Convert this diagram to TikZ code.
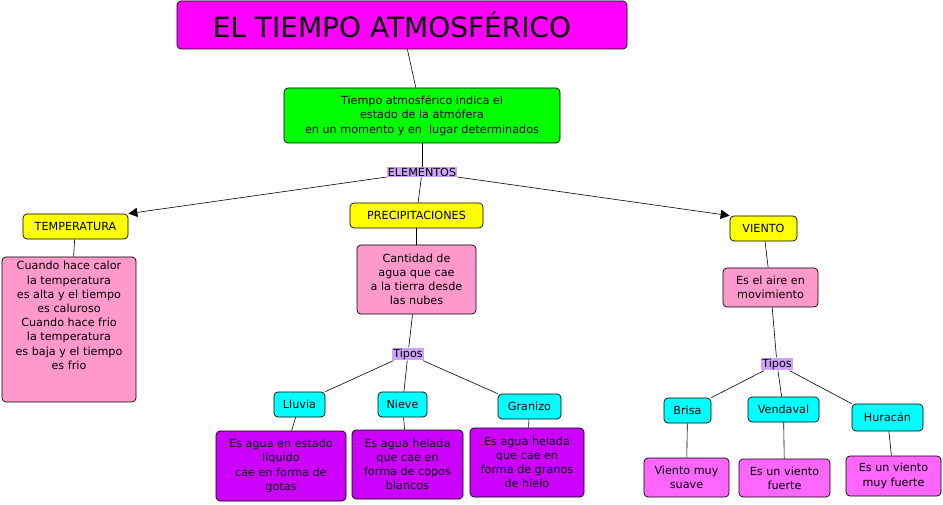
\documentclass[tikz,border=0pt]{standalone}
\usepackage{fontspec}
\setmainfont{DejaVu Sans}
\usetikzlibrary{arrows.meta}
\definecolor{tyellow}{HTML}{FFFF00}
\definecolor{tpink}{HTML}{FF99CC}
\definecolor{tcyan}{HTML}{00FFFF}
\definecolor{tpurple}{HTML}{CC00FF}
\definecolor{tmag}{HTML}{FF66FF}
\definecolor{tlav}{HTML}{CCA3F5}
\definecolor{ttitle}{HTML}{FF00FF}
\definecolor{tgreen}{HTML}{00FF00}
\begin{document}
\begin{tikzpicture}[x=1pt,y=-1pt,
  box/.style={draw=black,rounded corners=4pt,align=center,inner sep=1pt,font=\fontsize{11.2}{14.2}\selectfont,line width=0.7pt},
  lab/.style={fill=tlav,inner sep=1pt,font=\fontsize{11.2}{13}\selectfont},
  ln/.style={draw=black,line width=0.6pt},
  arr/.style={ln,-{Triangle[length=9pt,width=9pt]}}]
\fill[white] (0,0) rectangle (943,505);
\newcommand\bx[7]{\node[box,fill=#6,minimum width=#3-#1,minimum height=#4-#2] (#5) at ({(#1+#3)/2},{(#2+#4)/2}) {#7};}
\bx{177}{1}{627}{49}{title}{ttitle}{\fontsize{28}{30}\selectfont EL TIEMPO ATMOSFÉRICO\hspace{20pt}}
\bx{284}{88}{560}{143}{def}{tgreen}{Tiempo atmosférico indica el\\ estado de la atmófera\\en un momento y en\ \ lugar determinados}
\node[lab] (elem) at (422,172) {ELEMENTOS};
\bx{23}{214}{128}{239}{temp}{tyellow}{TEMPERATURA}
\bx{350}{203}{483}{228}{prec}{tyellow}{PRECIPITACIONES}
\bx{730}{216}{797}{241}{vien}{tyellow}{VIENTO}
\bx{2}{257}{136}{402}{tdesc}{tpink}{Cuando hace calor\\la temperatura\\es alta y el tiempo\\es caluroso\\Cuando hace frio\\la temperatura\\es baja y el tiempo\\es frio\\[14pt]}
\bx{357}{245}{476}{314}{cant}{tpink}{Cantidad de\\agua que cae\\a la tierra desde\\las nubes}
\bx{723}{268}{818}{307}{aire}{tpink}{Es el aire en\\movimiento}
\node[lab] (tip1) at (408,354) {Tipos};
\node[lab] (tip2) at (777,364) {Tipos};
\bx{274}{392}{325}{417}{llu}{tcyan}{Lluvia}
\bx{378}{392}{427}{417}{nie}{tcyan}{Nieve}
\bx{498}{394}{561}{419}{gra}{tcyan}{Granizo}
\bx{216}{431}{346}{501}{dllu}{tpurple}{Es agua en estado\\líquido\\cae en forma de\\gotas}
\bx{352}{430}{463}{499}{dnie}{tpurple}{Es agua helada\\que cae en\\forma de copos\\blancos}
\bx{470}{428}{584}{497}{dgra}{tpurple}{Es agua helada\\que cae en\\forma de granos\\de hielo}
\bx{664}{398}{711}{423}{bri}{tcyan}{Brisa}
\bx{748}{397}{819}{422}{ven}{tcyan}{Vendaval}
\bx{852}{404}{923}{431}{hur}{tcyan}{Huracán}
\bx{644}{458}{729}{497}{dbri}{tmag}{Viento muy\\suave}
\bx{739}{459}{830}{497}{dven}{tmag}{Es un viento\\fuerte}
\bx{846}{456}{941}{496}{dhur}{tmag}{Es un viento\\muy fuerte}
\draw[ln] (title) -- (def);
\draw[ln] (def) -- (elem);
\draw[arr] (elem) -- (temp.north east);
\draw[arr] (elem) -- (vien.north west);
\draw[ln] (elem) -- (prec);
\draw[ln] (temp) -- (tdesc);
\draw[ln] (prec) -- (cant);
\draw[ln] (vien) -- (aire);
\draw[ln] (cant) -- (tip1);
\draw[ln] (aire) -- (tip2);
\draw[ln] (tip1) -- (llu.north east);
\draw[ln] (tip1) -- (nie);
\draw[ln] (tip1) -- (gra.north west);
\draw[ln] (llu) -- (dllu);
\draw[ln] (nie) -- (dnie);
\draw[ln] (gra) -- (dgra);
\draw[ln] (tip2) -- (bri.north east);
\draw[ln] (tip2) -- (ven);
\draw[ln] (tip2) -- (hur.north west);
\draw[ln] (bri) -- (dbri);
\draw[ln] (ven) -- (dven);
\draw[ln] (hur) -- (dhur);
\end{tikzpicture}
\end{document}
